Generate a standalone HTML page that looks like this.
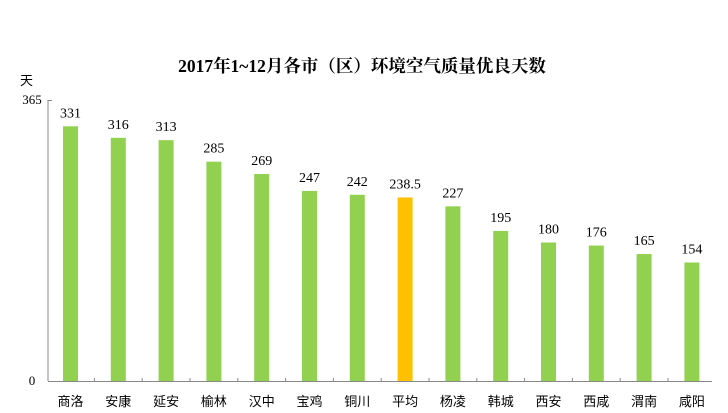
<!DOCTYPE html>
<html><head><meta charset="utf-8"><style>
body{margin:0;background:#fff;}
svg{display:block;font-family:"Liberation Serif","Noto Serif CJK SC",serif;}
</style></head><body>
<svg width="728" height="413" viewBox="0 0 728 413">
<text x="362" y="72" text-anchor="middle" font-size="17.5" font-weight="bold" fill="#000">2017年1~12月各市（区）环境空气质量优良天数</text>
<text x="20" y="85" font-size="13" font-family="'Noto Sans CJK SC',sans-serif">天</text>
<text x="32" y="104" text-anchor="middle" font-size="13">365</text>
<text x="32" y="385" text-anchor="middle" font-size="13">0</text>
<line x1="48" y1="100" x2="48" y2="381" stroke="#888" stroke-width="1"/>
<line x1="48" y1="100.5" x2="52" y2="100.5" stroke="#888"/>
<line x1="48" y1="381.5" x2="712" y2="381.5" stroke="#888"/>
<g id="bars"></g>
</svg>
<script>
var d=[["商洛",331],["安康",316],["延安",313],["榆林",285],["汉中",269],["宝鸡",247],["铜川",242],["平均",238.5],["杨凌",227],["韩城",195],["西安",180],["西咸",176],["渭南",165],["咸阳",154]];
var g=document.getElementById("bars"),s="";
d.forEach(function(e,i){var c=70.5+i*47.8,h=e[1]*0.7695,y=381-h;
s+='<rect x="'+(c-7.5)+'" y="'+y+'" width="15" height="'+h+'" fill="'+(i==7?"#FFC000":"#92D050")+'"/>';
s+='<text x="'+c+'" y="'+(y-9)+'" text-anchor="middle" font-size="14">'+e[1]+'</text>';
s+='<text x="'+c+'" y="406" text-anchor="middle" font-size="13" font-family="\'Noto Sans CJK SC\',sans-serif">'+e[0]+'</text>';
if(i>0){var tx=c-23.9;s+='<line x1="'+tx+'" y1="378" x2="'+tx+'" y2="381" stroke="#888"/>';}
});
g.innerHTML=s;
</script>
</body></html>
